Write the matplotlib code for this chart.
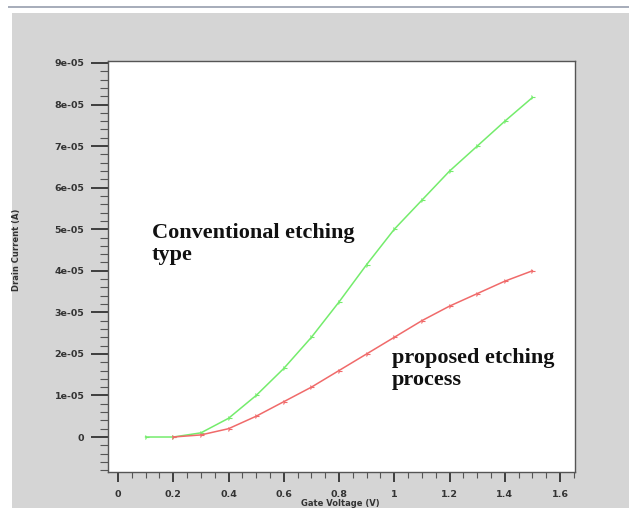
import matplotlib.pyplot as plt
from matplotlib.patches import Rectangle
from matplotlib.ticker import MultipleLocator, FixedLocator, FixedFormatter

# gate voltage sweep (V)
gate_v = [0.1, 0.2, 0.3, 0.4, 0.5, 0.6, 0.7, 0.8, 0.9, 1.0, 1.1, 1.2, 1.3, 1.4, 1.5]
# drain current (A)
conventional = [0.0, 0.0, 1.0e-6, 4.5e-6, 1.0e-5, 1.65e-5, 2.4e-5, 3.25e-5, 4.15e-5,
                5.0e-5, 5.7e-5, 6.4e-5, 7.0e-5, 7.6e-5, 8.17e-5]
proposed = [None, 0.0, 5e-7, 2.0e-6, 5.0e-6, 8.5e-6, 1.2e-5, 1.6e-5, 2.0e-5,
            2.4e-5, 2.8e-5, 3.15e-5, 3.45e-5, 3.75e-5, 4.0e-5]

y_ticks = [0, 1e-5, 2e-5, 3e-5, 4e-5, 5e-5, 6e-5, 7e-5, 8e-5, 9e-5]
y_labels = ['0', '1e-05', '2e-05', '3e-05', '4e-05', '5e-05', '6e-05', '7e-05', '8e-05', '9e-05']
x_ticks = [0, 0.2, 0.4, 0.6, 0.8, 1.0, 1.2, 1.4, 1.6]
x_labels = ['0', '0.2', '0.4', '0.6', '0.8', '1', '1.2', '1.4', '1.6']

fig = plt.figure(figsize=(6.29, 5.08), dpi=100)
fig.patch.set_facecolor('white')

# grey window background with the thin top rule
fig.patches.append(Rectangle((12 / 629, 0), 1, 1 - 13 / 508, transform=fig.transFigure,
                             facecolor='#d5d5d5', edgecolor='none', zorder=-5))
fig.patches.append(Rectangle((8 / 629, 1 - 8 / 508), 1, 2 / 508, transform=fig.transFigure,
                             facecolor='#a8aebb', edgecolor='none', zorder=-5))

ax = fig.add_axes([108 / 629, 1 - 472 / 508, 467 / 629, 411 / 508])
ax.set_zorder(2)
ax.set_facecolor('white')

px = [v for v, c in zip(gate_v, proposed) if c is not None]
py = [c for c in proposed if c is not None]
ax.plot(gate_v, conventional, color='#74ec6c', lw=1.1, marker='4', ms=4, mew=0.8)
ax.plot(px, py, color='#f06a6a', lw=1.1, marker='4', ms=4, mew=0.8)

ax.set_xlim(-0.0362, 1.654)
ax.set_ylim(-0.842e-5, 9.048e-5)

ax.yaxis.set_major_locator(FixedLocator(y_ticks))
ax.yaxis.set_major_formatter(FixedFormatter(y_labels))
ax.yaxis.set_minor_locator(MultipleLocator(2e-6))
ax.xaxis.set_major_locator(FixedLocator(x_ticks))
ax.xaxis.set_major_formatter(FixedFormatter(x_labels))
ax.xaxis.set_minor_locator(MultipleLocator(0.05))

ax.tick_params(axis='y', which='major', direction='out', length=12, width=1.3,
               labelsize=6.8, color='#333333', pad=5)
ax.tick_params(axis='y', which='minor', direction='out', length=6, width=0.8, color='#555555')
ax.tick_params(axis='x', which='major', direction='out', length=7, width=1.3,
               labelsize=6.8, color='#333333', pad=6)
ax.tick_params(axis='x', which='minor', direction='out', length=4, width=0.8, color='#555555')
for t in ax.get_xticklabels() + ax.get_yticklabels():
    t.set_fontweight('bold')
    t.set_color('#333333')

for s in ax.spines.values():
    s.set_color('#555555')
    s.set_linewidth(1.0)

fig.text(340 / 629, 1 - 503 / 508, 'Gate Voltage (V)', ha='center', va='center',
         fontsize=6, fontweight='bold', color='#333333')
fig.text(17 / 629, 1 - 250 / 508, 'Drain Current (A)', ha='center', va='center',
         rotation=90, fontsize=6, fontweight='bold', color='#333333')

ax.text(0.123, 4.64e-5, 'Conventional etching\ntype', family='Liberation Serif',
        fontweight='bold', fontsize=16, color='#111111', linespacing=1.1,
        ha='left', va='center')
ax.text(0.992, 1.64e-5, 'proposed etching\nprocess', family='Liberation Serif',
        fontweight='bold', fontsize=16, color='#111111', linespacing=1.1,
        ha='left', va='center')

fig.savefig('out.png', dpi=100)
